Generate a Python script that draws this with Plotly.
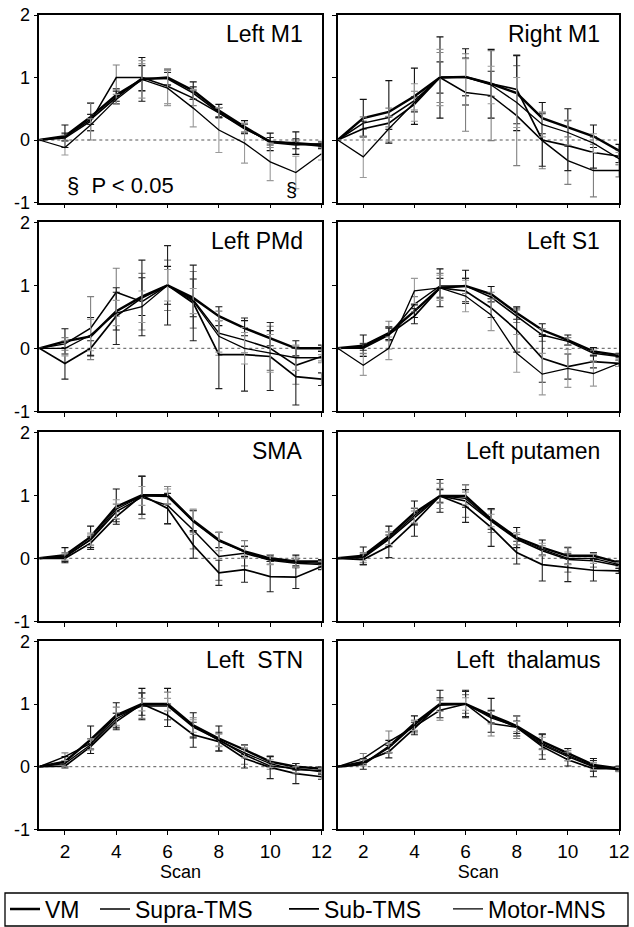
import plotly.graph_objects as go

# ---------------- data ----------------
SCAN = list(range(1, 13))
SERIES = ["VM", "Supra-TMS", "Sub-TMS", "Motor-MNS"]
TITLES = ["Left M1", "Right M1", "Left PMd", "Left S1",
          "SMA", "Left putamen", "Left\u00a0 STN", "Left\u00a0 thalamus"]
X_TICKS = [2, 4, 6, 8, 10, 12]
Y_TICKS = [-1, 0, 1, 2]
Y_TICK_TEXT = ["-1", "0", "1", "2"]

LEFT_M1_MEAN = [
    [0, 0.06, 0.37, 0.72, 0.97, 1.00, 0.79, 0.47, 0.21, -0.03, -0.05, -0.08],
    [0, 0.03, 0.30, 1.00, 1.00, 0.86, 0.67, 0.43, 0.19, -0.04, -0.08, -0.06],
    [0, 0.05, 0.33, 0.68, 0.99, 0.98, 0.75, 0.44, 0.18, -0.02, -0.06, -0.10],
    [0, -0.12, 0.24, 0.65, 0.97, 0.83, 0.51, 0.16, -0.05, -0.35, -0.52, -0.22]]
LEFT_M1_SE = [
    [0, 0.18, 0.22, 0.10, 0.35, 0.12, 0.14, 0.10, 0.10, 0.14, 0.18, 0.05],
    [0, 0.05, 0.30, 0.20, 0.22, 0.28, 0.12, 0.08, 0.06, 0.08, 0.06, 0.04],
    [0, 0.06, 0.08, 0.10, 0.20, 0.10, 0.10, 0.08, 0.08, 0.06, 0.08, 0.04],
    [0, 0.12, 0.10, 0.08, 0.30, 0.28, 0.30, 0.36, 0.32, 0.30, 0.26, 0.10]]

RIGHT_M1_MEAN = [
    [0, 0.35, 0.45, 0.70, 1.00, 1.01, 0.90, 0.75, 0.35, 0.20, 0.06, -0.17],
    [0, 0.27, 0.36, 0.63, 1.00, 0.76, 0.71, 0.39, -0.01, -0.33, -0.49, -0.49],
    [0, 0.18, 0.27, 0.57, 1.00, 1.01, 0.90, 0.81, 0.00, -0.09, -0.20, -0.26],
    [0, -0.27, 0.18, 0.60, 1.00, 1.00, 0.88, 0.60, 0.25, 0.12, -0.05, -0.30]]
RIGHT_M1_SE = [
    [0, 0.30, 0.50, 0.45, 0.65, 0.45, 0.55, 0.60, 0.25, 0.30, 0.18, 0.10],
    [0, 0.10, 0.15, 0.15, 0.40, 0.62, 0.72, 0.80, 0.45, 0.38, 0.42, 0.10],
    [0, 0.12, 0.10, 0.12, 0.25, 0.30, 0.20, 0.55, 0.42, 0.40, 0.25, 0.10],
    [0, 0.33, 0.20, 0.30, 0.45, 0.30, 0.30, 0.40, 0.20, 0.20, 0.15, 0.10]]

LEFT_PMD_MEAN = [
    [0, 0.11, 0.19, 0.59, 0.82, 1.00, 0.80, 0.51, 0.32, 0.16, 0.00, 0.00],
    [0, 0.07, 0.32, 0.89, 0.74, 1.00, 0.77, 0.24, 0.13, 0.00, -0.27, -0.13],
    [0, -0.24, 0.00, 0.51, 0.80, 1.00, 0.72, -0.10, -0.10, -0.13, -0.45, -0.49],
    [0, 0.00, 0.21, 0.56, 0.66, 1.00, 0.75, 0.19, 0.00, -0.08, -0.15, -0.15]]
LEFT_PMD_SE = [
    [0, 0.20, 0.30, 0.30, 0.30, 0.30, 0.30, 0.15, 0.12, 0.12, 0.12, 0.05],
    [0, 0.10, 0.50, 0.38, 0.45, 0.40, 0.45, 0.35, 0.20, 0.35, 0.30, 0.10],
    [0, 0.25, 0.12, 0.45, 0.60, 0.63, 0.60, 0.54, 0.58, 0.54, 0.45, 0.10],
    [0, 0.12, 0.25, 0.20, 0.25, 0.25, 0.20, 0.25, 0.25, 0.30, 0.20, 0.05]]

LEFT_S1_MEAN = [
    [0, 0.04, 0.24, 0.59, 0.96, 0.99, 0.86, 0.56, 0.29, 0.13, -0.05, -0.11],
    [0, 0.00, 0.21, 0.70, 0.99, 0.99, 0.81, 0.51, 0.21, 0.11, -0.08, -0.13],
    [0, 0.02, 0.22, 0.51, 0.96, 0.91, 0.64, 0.29, -0.16, -0.29, -0.21, -0.24],
    [0, -0.27, 0.00, 0.91, 0.96, 0.83, 0.53, -0.08, -0.41, -0.32, -0.40, -0.24]]
LEFT_S1_SE = [
    [0, 0.17, 0.10, 0.10, 0.30, 0.25, 0.12, 0.10, 0.10, 0.08, 0.06, 0.03],
    [0, 0.08, 0.22, 0.12, 0.20, 0.12, 0.08, 0.10, 0.10, 0.06, 0.05, 0.04],
    [0, 0.05, 0.10, 0.12, 0.15, 0.20, 0.15, 0.35, 0.38, 0.20, 0.10, 0.05],
    [0, 0.16, 0.18, 0.20, 0.20, 0.25, 0.25, 0.30, 0.33, 0.30, 0.20, 0.05]]

SMA_MEAN = [
    [0, 0.05, 0.34, 0.82, 1.00, 1.00, 0.60, 0.29, 0.11, 0.00, -0.05, -0.05],
    [0, 0.03, 0.29, 0.74, 0.97, 0.84, 0.45, 0.03, 0.08, -0.03, -0.08, -0.10],
    [0, 0.00, 0.24, 0.66, 1.00, 0.79, 0.21, -0.23, -0.18, -0.29, -0.30, -0.13],
    [0, 0.02, 0.30, 0.78, 0.99, 0.98, 0.58, 0.27, 0.10, -0.02, -0.06, -0.08]]
SMA_SE = [
    [0, 0.12, 0.17, 0.28, 0.30, 0.14, 0.16, 0.12, 0.08, 0.05, 0.10, 0.03],
    [0, 0.06, 0.08, 0.12, 0.34, 0.30, 0.30, 0.38, 0.20, 0.06, 0.06, 0.03],
    [0, 0.05, 0.10, 0.08, 0.30, 0.24, 0.21, 0.20, 0.20, 0.24, 0.18, 0.05],
    [0, 0.05, 0.10, 0.15, 0.15, 0.12, 0.20, 0.15, 0.10, 0.08, 0.08, 0.03]]

PUTAMEN_MEAN = [
    [0, 0.04, 0.35, 0.72, 0.99, 0.99, 0.62, 0.33, 0.17, 0.04, 0.04, -0.07],
    [0, 0.01, 0.30, 0.65, 0.99, 0.91, 0.59, 0.30, 0.12, -0.02, -0.04, -0.12],
    [0, -0.02, 0.19, 0.57, 0.99, 0.83, 0.49, 0.09, -0.10, -0.15, -0.19, -0.20],
    [0, 0.02, 0.32, 0.68, 0.99, 0.95, 0.60, 0.31, 0.14, 0.00, 0.00, -0.10]]
PUTAMEN_SE = [
    [0, 0.14, 0.16, 0.19, 0.26, 0.18, 0.16, 0.16, 0.12, 0.13, 0.05, 0.03],
    [0, 0.08, 0.12, 0.10, 0.20, 0.26, 0.18, 0.08, 0.08, 0.20, 0.10, 0.04],
    [0, 0.08, 0.18, 0.22, 0.10, 0.26, 0.30, 0.18, 0.26, 0.22, 0.17, 0.04],
    [0, 0.06, 0.10, 0.12, 0.12, 0.10, 0.10, 0.10, 0.10, 0.10, 0.08, 0.03]]

STN_MEAN = [
    [0, 0.08, 0.43, 0.82, 1.00, 1.00, 0.66, 0.45, 0.27, 0.08, 0.00, -0.03],
    [0, 0.16, 0.37, 0.80, 0.97, 0.97, 0.63, 0.43, 0.19, 0.01, -0.03, -0.08],
    [0, 0.01, 0.32, 0.72, 1.00, 0.82, 0.51, 0.40, 0.13, -0.01, -0.11, -0.16],
    [0, 0.05, 0.35, 0.76, 0.99, 0.99, 0.65, 0.42, 0.22, 0.05, -0.05, -0.06]]
STN_SE = [
    [0, 0.08, 0.22, 0.20, 0.25, 0.25, 0.20, 0.20, 0.08, 0.08, 0.05, 0.03],
    [0, 0.06, 0.08, 0.15, 0.20, 0.22, 0.15, 0.10, 0.15, 0.05, 0.08, 0.03],
    [0, 0.03, 0.05, 0.13, 0.18, 0.18, 0.20, 0.15, 0.15, 0.18, 0.16, 0.04],
    [0, 0.05, 0.08, 0.10, 0.10, 0.10, 0.10, 0.10, 0.08, 0.06, 0.05, 0.03]]

THALAMUS_MEAN = [
    [0, 0.04, 0.32, 0.69, 1.00, 1.00, 0.82, 0.65, 0.40, 0.21, 0.03, -0.03],
    [0, 0.13, 0.40, 0.64, 0.90, 1.00, 0.69, 0.63, 0.35, 0.16, 0.00, -0.05],
    [0, 0.08, 0.24, 0.61, 1.00, 1.00, 0.80, 0.63, 0.32, 0.11, -0.03, -0.03],
    [0, 0.06, 0.30, 0.66, 0.98, 1.00, 0.78, 0.64, 0.37, 0.18, 0.01, -0.04]]
THALAMUS_SE = [
    [0, 0.08, 0.10, 0.12, 0.22, 0.22, 0.27, 0.16, 0.12, 0.08, 0.10, 0.03],
    [0, 0.08, 0.17, 0.10, 0.16, 0.15, 0.20, 0.18, 0.16, 0.07, 0.06, 0.03],
    [0, 0.05, 0.10, 0.10, 0.10, 0.20, 0.10, 0.10, 0.20, 0.10, 0.13, 0.04],
    [0, 0.05, 0.08, 0.08, 0.10, 0.10, 0.10, 0.08, 0.10, 0.08, 0.06, 0.03]]

PANELS = [(LEFT_M1_MEAN, LEFT_M1_SE), (RIGHT_M1_MEAN, RIGHT_M1_SE),
          (LEFT_PMD_MEAN, LEFT_PMD_SE), (LEFT_S1_MEAN, LEFT_S1_SE),
          (SMA_MEAN, SMA_SE), (PUTAMEN_MEAN, PUTAMEN_SE),
          (STN_MEAN, STN_SE), (THALAMUS_MEAN, THALAMUS_SE)]

# ---------------- styling ----------------
W, H = 634, 927
FONT = "Liberation Sans, Arial, sans-serif"
LINE_W = [2.4, 1.5, 1.7, 1.3]
ERR_COL = ["#111111", "#808080", "#222222", "#9a9a9a"]

X_DOM = [(39.3 / W, 321.5 / W), (337.7 / W, 619.0 / W)]
ROW_PX = [(15.0, 202.5), (222.3, 411.3), (432.3, 621.3), (641.3, 829.4)]
Y_DOM = [(1 - b / H, 1 - t / H) for t, b in ROW_PX]

fig = go.Figure()
layout = dict(
    width=W, height=H,
    margin=dict(l=0, r=0, t=0, b=0, pad=0, autoexpand=False),
    paper_bgcolor="white", plot_bgcolor="white",
    font=dict(family=FONT, color="black", size=19),
    showlegend=True,
)
annotations = []
shapes = []

for p, (means, ses) in enumerate(PANELS):
    row, col = divmod(p, 2)
    n = p + 1
    sfx = "" if n == 1 else str(n)
    xa, ya = "x" + sfx, "y" + sfx
    for s in range(4):
        fig.add_trace(go.Scatter(
            x=SCAN, y=means[s], mode="lines", name=SERIES[s],
            xaxis=xa, yaxis=ya,
            line=dict(color="black", width=LINE_W[s]),
            error_y=dict(type="data", array=ses[s], visible=True,
                         color=ERR_COL[s], thickness=1.1, width=3.5),
            showlegend=(p == 0),
            legend="legend" if s == 0 else "legend" + str(s + 1),
        ))
    bottom = row == 3
    layout["xaxis" + sfx] = dict(
        domain=X_DOM[col], anchor=ya, range=[1, 12],
        tickvals=X_TICKS, ticks="outside", ticklen=4, tickcolor="black",
        showticklabels=bottom, showgrid=False, zeroline=False,
        showline=True, mirror=True, linecolor="black", linewidth=1.5,
        tickfont=dict(size=19), automargin=False,
        title=dict(text="Scan" if bottom else "", font=dict(size=18), standoff=3),
    )
    layout["yaxis" + sfx] = dict(
        domain=Y_DOM[row], anchor=xa, range=[-1, 2],
        tickvals=Y_TICKS, ticktext=Y_TICK_TEXT,
        ticks="outside", ticklen=4, tickcolor="black",
        showticklabels=(col == 0), showgrid=False, zeroline=False,
        showline=True, mirror=True, linecolor="black", linewidth=1.5,
        tickfont=dict(size=18), automargin=False,
    )
    shapes.append(dict(type="line", xref=xa + " domain", yref=ya,
                       x0=0, x1=1, y0=0, y1=0,
                       line=dict(color="#555555", width=1, dash="dot"),
                       layer="below"))
    annotations.append(dict(text=TITLES[p], xref=xa, yref=ya, x=11.35, y=1.7,
                            xanchor="right", yanchor="middle", showarrow=False,
                            font=dict(size=23)))

annotations.append(dict(text="§  P < 0.05", xref="x", yref="y", x=2.0, y=-0.72,
                        xanchor="left", yanchor="middle", showarrow=False,
                        font=dict(size=22)))
annotations.append(dict(text="§", xref="x", yref="y", x=10.83, y=-0.8,
                        xanchor="center", yanchor="middle", showarrow=False,
                        font=dict(size=20)))

# legend frame
shapes.append(dict(type="rect", xref="paper", yref="paper",
                   x0=5 / W, x1=628 / W, y0=1 - 926 / H, y1=1 - 893 / H,
                   line=dict(color="black", width=1.3), fillcolor="rgba(0,0,0,0)"))

TEXT_X = [47, 137, 326, 490]
for s in range(4):
    key = "legend" if s == 0 else "legend" + str(s + 1)
    layout[key] = dict(x=(TEXT_X[s] - 42) / W, y=1 - 909 / H,
                       xanchor="left", yanchor="middle",
                       bgcolor="rgba(0,0,0,0)", borderwidth=0,
                       font=dict(size=23, family=FONT), itemwidth=30)

layout["annotations"] = annotations
layout["shapes"] = shapes
fig.update_layout(**layout)
fig.write_html("out.html")
